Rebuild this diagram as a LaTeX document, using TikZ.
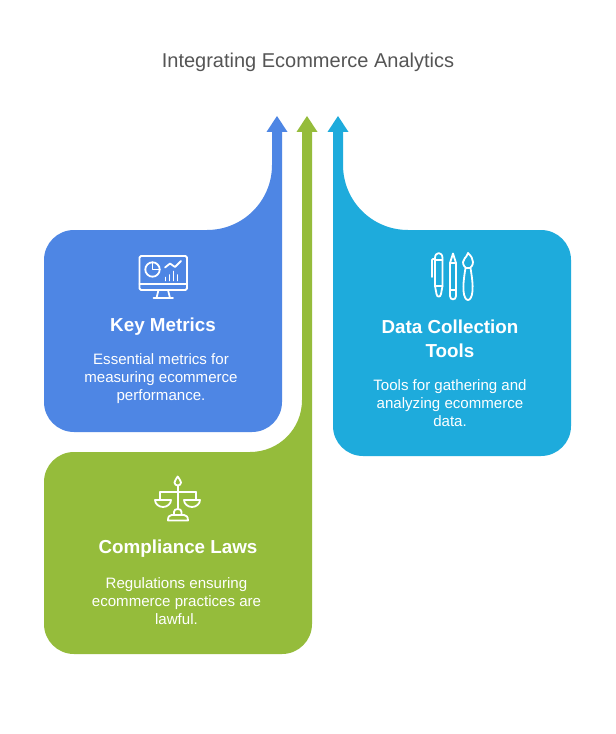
\documentclass[tikz,border=0pt]{standalone}
\usepackage{fontspec}
\setmainfont{Liberation Sans}
\definecolor{cblue}{HTML}{4E86E4}
\definecolor{cgreen}{HTML}{95BC3B}
\definecolor{ccyan}{HTML}{1EABDC}
\definecolor{ctitle}{HTML}{555555}
\tikzset{
  titletext/.style={text=ctitle,font=\fontsize{15}{18}\selectfont,inner sep=0pt},
  headtext/.style={text=white,font=\fontsize{14.1}{18}\selectfont\bfseries,align=center,inner sep=0pt},
  bodytext/.style={text=white,font=\fontsize{11.3}{13.5}\selectfont,align=center,inner sep=0pt},
  icon/.style={draw=white,line width=1.35pt,line join=round,line cap=round,fill=none},
}
\begin{document}
\begin{tikzpicture}[x=0.75pt,y=-0.75pt]
\useasboundingbox (0,0) rectangle (615,734);
\fill[white] (0,0) rectangle (615,734);
% blue
\fill[cblue] (277,116) -- (287.5,132) -- (282,132) -- (282,402)
  .. controls (282,418.6) and (268.6,432) .. (252,432) -- (74,432)
  .. controls (57.4,432) and (44,418.6) .. (44,402) -- (44,260)
  .. controls (44,243.4) and (57.4,230) .. (74,230) -- (207,230)
  .. controls (243,230) and (272,201) .. (272,165) -- (272,132) -- (266.5,132) -- cycle;
% green
\fill[cgreen] (307,116) -- (317.5,132) -- (312,132) -- (312,624)
  .. controls (312,640.6) and (298.6,654) .. (282,654) -- (74,654)
  .. controls (57.4,654) and (44,640.6) .. (44,624) -- (44,482)
  .. controls (44,465.4) and (57.4,452) .. (74,452) -- (250,452)
  .. controls (279,452) and (302,429) .. (302,400) -- (302,132) -- (296.5,132) -- cycle;
% cyan
\fill[ccyan] (338,116) -- (348.5,132) -- (343,132) -- (343,165)
  .. controls (343,201) and (372,230) .. (408,230) -- (541,230)
  .. controls (557.6,230) and (571,243.4) .. (571,260) -- (571,426)
  .. controls (571,442.6) and (557.6,456) .. (541,456) -- (363,456)
  .. controls (346.4,456) and (333,442.6) .. (333,426) -- (333,132) -- (327.5,132) -- cycle;
% texts
\node[titletext] (title) at (308,62.5) {Integrating Ecommerce Analytics};
\node[headtext] (h1) at (163,327) {Key Metrics};
\node[bodytext] (b1) at (161,378.5) {Essential metrics for\\measuring ecommerce\\performance.};
\node[headtext] (h2) at (450,338.5) {Data Collection\\Tools};
\node[bodytext] (b2) at (450,403.5) {Tools for gathering and\\analyzing ecommerce\\data.};
\node[headtext] (h3) at (178,549) {Compliance Laws};
\node[bodytext] (b3) at (176.5,601.5) {Regulations ensuring\\ecommerce practices are\\lawful.};
% monitor icon
\draw[icon] (141,256) -- (185.5,256) .. controls (186.5,256) and (187,256.5) .. (187,257.5) -- (187,288.5) .. controls (187,289.5) and (186.5,290) .. (185.5,290) -- (141,290) .. controls (140,290) and (139.5,289.5) .. (139.5,288.5) -- (139.5,257.5) .. controls (139.5,256.5) and (140,256) .. (141,256) -- cycle;
\draw[icon] (139.5,284) -- (187,284);
\draw[icon] (158.5,290) -- (156.5,298) (168,290) -- (170,298) (153.5,298) -- (173,298);
\draw[icon] (152.5,269.5) circle (7.2);
\draw[icon] (152.5,262.3) -- (152.5,269.5) -- (159.7,269.5);
\draw[icon] (165,267.5) -- (170,263.5) -- (175,267) -- (181,261);
\draw[icon] (165.5,277.5) -- (165.5,280.5) (169.5,275) -- (169.5,280.5) (173.5,271.5) -- (173.5,280.5) (177.5,275) -- (177.5,280.5);
% pens icon
\draw[icon] (435,258) .. controls (435,251.5) and (442.5,251.5) .. (442.5,258) -- (442.5,286) -- (441,294) .. controls (440.5,297.5) and (437,297.5) .. (436.5,294) -- (435,286) -- cycle;
\draw[icon] (435,260) -- (442.5,260) (435,286) -- (442.5,286);
\draw[icon] (435,259) -- (433,259) .. controls (432.3,259) and (432,259.5) .. (432,260) -- (432,277);
\draw[icon] (450,263) -- (453,253.5) -- (456,263) -- (456,296) .. controls (456,300.5) and (450,300.5) .. (450,296) -- cycle;
\draw[icon] (450,263) -- (456,263) (450,290) -- (456,290);
\draw[icon] (468,253) .. controls (471,256) and (473,258.5) .. (473,262) .. controls (473,265.5) and (471,267) .. (470,268) -- (466,268) .. controls (465,267) and (463,265.5) .. (463,262) .. controls (463,258.5) and (466.5,258) .. (468,253) -- cycle;
\draw[icon] (465.5,268) .. controls (464,277) and (463,285) .. (463.5,291) .. controls (464,297) and (466,300) .. (468,300) .. controls (470,300) and (472,297) .. (472.5,291) .. controls (473,285) and (472,277) .. (470.5,268);
% scales icon
\draw[icon] (177.7,476.5) .. controls (179,479) and (181,480.5) .. (181,482.5) .. controls (181,484.3) and (179.5,485.5) .. (177.7,485.5) .. controls (176,485.5) and (174.5,484.3) .. (174.5,482.5) .. controls (174.5,480.5) and (176.5,479) .. (177.7,476.5) -- cycle;
\draw[icon] (177.7,485.5) -- (177.7,509);
\draw[icon] (160,492) -- (196,492);
\draw[icon] (160,492) -- (160,500) (196,492) -- (196,500);
\draw[icon] (155,500) -- (171,500) .. controls (171,504) and (167,507) .. (163,507) .. controls (159,507) and (155,504) .. (155,500) -- cycle;
\draw[icon] (184,500) -- (200,500) .. controls (200,504) and (196,507) .. (192,507) .. controls (188,507) and (184,504) .. (184,500) -- cycle;
\draw[icon] (174,515) -- (174,512) .. controls (174,510) and (175.5,509) .. (177.7,509) .. controls (180,509) and (181.5,510) .. (181.5,512) -- (181.5,515);
\draw[icon] (171.5,515) -- (184,515) .. controls (186.5,515) and (188,517) .. (188,520.5) -- (168,520.5) .. controls (168,517) and (169,515) .. (171.5,515) -- cycle;
\end{tikzpicture}
\end{document}
